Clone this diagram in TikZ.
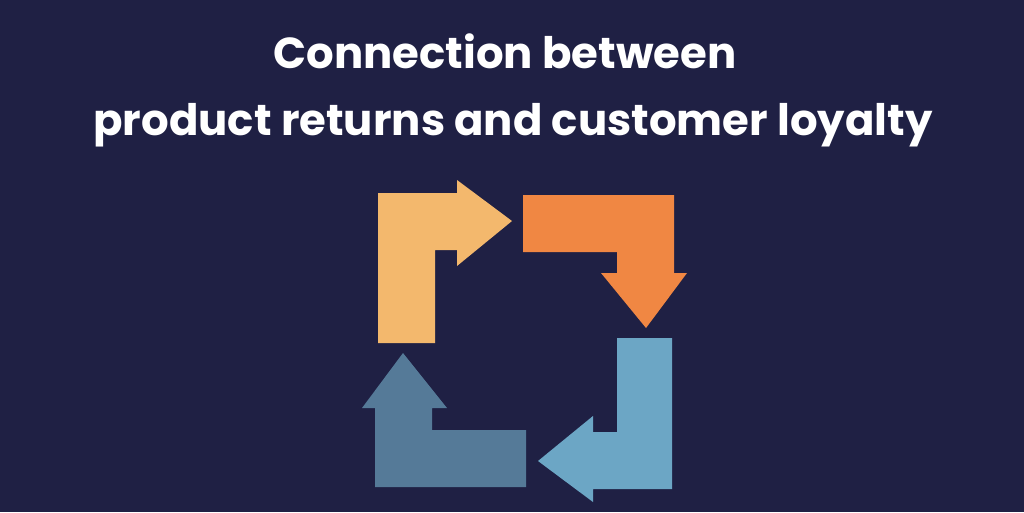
\documentclass[tikz,border=0pt]{standalone}
\usepackage{fontspec}
\setmainfont{Poppins}
\usepackage{tikz}
\definecolor{bg}{HTML}{1F2044}
\definecolor{yel}{HTML}{F3B86D}
\definecolor{org}{HTML}{F08743}
\definecolor{lbl}{HTML}{6CA6C5}
\definecolor{stl}{HTML}{557A98}
\tikzset{
  ttl/.style={text=white,font=\bfseries\fontsize{43.4}{50}\selectfont,inner sep=0pt,anchor=base},
  every picture/.style={x=1pt,y=-1pt},
}
\begin{document}
\begin{tikzpicture}
\fill[bg] (0,0) rectangle (1024,512);
\useasboundingbox (0,0) rectangle (1024,512);
\node[ttl] (t1) at (505,68){Connection between};
\node[ttl] (t2) at (513,135){product returns and customer loyalty};
% four bent arrows
\fill[yel] (378,193)--(457,193)--(457,180)--(512,221)--(457,266)--(457,250)--(435,250)--(435,343)--(378,343)--cycle;
\fill[org] (523,195)--(674,195)--(674,273)--(687,273)--(646,328)--(601,273)--(617,273)--(617,252)--(523,252)--cycle;
\fill[lbl] (672,338)--(672,489)--(593,489)--(593,502)--(538,461)--(593,416)--(593,432)--(617,432)--(617,338)--cycle;
\fill[stl] (526,487)--(375,487)--(375,408)--(362,408)--(403,353)--(447,408)--(432,408)--(432,430)--(526,430)--cycle;
\end{tikzpicture}
\end{document}
